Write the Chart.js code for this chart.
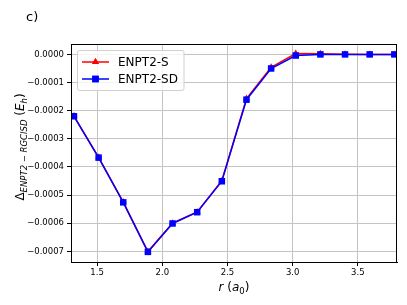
<!DOCTYPE html>
<html>
<head>
<meta charset="utf-8">
<script src="https://cdn.jsdelivr.net/npm/chart.js@4.4.0/dist/chart.umd.min.js"></script>
<style>
  body { margin: 0; background: #fff; }
  #wrap { width: 407px; height: 305px; }
</style>
</head>
<body>
<div id="wrap"><canvas id="c" width="407" height="305"></canvas></div>
<script>
// r in bohr (0.7 .. 2.0 Angstrom)
const rValues = [1.3228, 1.5118, 1.7008, 1.8897, 2.0787, 2.2677, 2.4566, 2.6456, 2.8346, 3.0236, 3.2125, 3.4015, 3.5905, 3.7795];
const enpt2S  = [-0.000219, -0.000366, -0.000525, -0.000701, -0.000600, -0.000560, -0.000449, -0.000157, -0.000046, 0.000003, 0.000002, 0.000001, 0.0, 0.0];
const enpt2SD = [-0.000220, -0.000367, -0.000526, -0.000702, -0.000601, -0.000561, -0.000451, -0.000161, -0.000050, -0.000004, 0.000000, 0.000000, 0.0, 0.0];
const xTicks = [1.5, 2.0, 2.5, 3.0, 3.5];
const yTicks = [0, -0.0001, -0.0002, -0.0003, -0.0004, -0.0005, -0.0006, -0.0007];

const FONT = '"DejaVu Sans", sans-serif';

const toPoints = (xs, ys) => xs.map((x, i) => ({ x: x, y: ys[i] }));

// draws frame, labels with subscripts and the legend box
const decorations = {
    id: 'decorations',
    afterDatasetsDraw(chart) {
        const ctx = chart.ctx;
        const a = chart.chartArea;
        ctx.save();

        // axes frame
        ctx.strokeStyle = '#000';
        ctx.lineWidth = 1;
        ctx.strokeRect(Math.round(a.left) + 0.5, Math.round(a.top) + 0.5, Math.round(a.right - a.left) - 1, Math.round(a.bottom - a.top));

        // legend
        const lx = 77.5, ly = 50.5, lw = 106.5, lh = 40;
        ctx.fillStyle = 'rgba(255,255,255,0.8)';
        ctx.strokeStyle = '#d0d0d0';
        ctx.beginPath();
        ctx.roundRect(lx, ly, lw, lh, 2);
        ctx.fill();
        ctx.stroke();
        chart.data.datasets.forEach((ds, i) => {
            const y = 62 + i * 17;
            ctx.strokeStyle = ds.borderColor;
            ctx.lineWidth = 1.5;
            ctx.beginPath();
            ctx.moveTo(82, y);
            ctx.lineTo(109, y);
            ctx.stroke();
            ctx.fillStyle = ds.backgroundColor;
            Chart.helpers.drawPoint(ctx, { pointStyle: ds.pointStyle, radius: ds.pointRadius, borderWidth: 0 }, 95.5, y);
            ctx.fill();
            ctx.fillStyle = '#000';
            ctx.font = '12px ' + FONT;
            ctx.textBaseline = 'middle';
            ctx.fillText(ds.label, 118, y + 0.5);
        });

        // panel tag
        ctx.fillStyle = '#000';
        ctx.font = '13px ' + FONT;
        ctx.textBaseline = 'middle';
        ctx.fillText('c)', 26, 18);

        // x label: r (a0)
        const parts = (pieces, x, y) => {
            let width = 0;
            pieces.forEach(p => { ctx.font = p.f; width += ctx.measureText(p.t).width; });
            let cx = x - width / 2;
            pieces.forEach(p => {
                ctx.font = p.f;
                ctx.fillText(p.t, cx, y + (p.dy || 0));
                cx += ctx.measureText(p.t).width;
            });
        };
        ctx.textBaseline = 'alphabetic';
        parts([
            { t: 'r', f: 'italic 12px ' + FONT },
            { t: ' (', f: '12px ' + FONT },
            { t: 'a', f: 'italic 12px ' + FONT },
            { t: '0', f: '8.5px ' + FONT, dy: 2.5 },
            { t: ')', f: '12px ' + FONT }
        ], (a.left + a.right) / 2, 291);

        // y label: Delta_{ENPT2 - RGCISD} (E_h)
        ctx.translate(24, 147);
        ctx.rotate(-Math.PI / 2);
        parts([
            { t: 'Δ', f: '12px ' + FONT },
            { t: 'ENPT2 − RGCISD', f: 'italic 8.5px ' + FONT, dy: 2.5 },
            { t: ' (', f: '12px ' + FONT },
            { t: 'E', f: 'italic 12px ' + FONT },
            { t: 'h', f: 'italic 8.5px ' + FONT, dy: 2.5 },
            { t: ')', f: '12px ' + FONT }
        ], 0, 0);

        ctx.restore();
    }
};

new Chart(document.getElementById('c'), {
    type: 'line',
    data: {
        datasets: [
            {
                label: 'ENPT2-S',
                data: toPoints(rValues, enpt2S),
                borderColor: '#ff0000',
                backgroundColor: '#ff0000',
                pointStyle: 'triangle',
                pointRadius: 4,
                pointBorderWidth: 0,
                borderWidth: 1.5,
                tension: 0,
                order: 1
            },
            {
                label: 'ENPT2-SD',
                data: toPoints(rValues, enpt2SD),
                borderColor: '#0000ff',
                backgroundColor: '#0000ff',
                pointStyle: 'rect',
                pointRadius: 4.6,
                pointBorderWidth: 0,
                borderWidth: 1.5,
                tension: 0,
                order: 0
            }
        ]
    },
    options: {
        responsive: false,
        animation: false,
        layout: { padding: { top: 44, right: 10, left: 0, bottom: 0 } },
        plugins: { legend: { display: false }, tooltip: { enabled: false } },
        scales: {
            x: {
                type: 'linear',
                min: 1.3,
                max: 3.8,
                afterBuildTicks: (s) => { s.ticks = xTicks.map(v => ({ value: v })); },
                afterFit: (s) => { s.height = 43; },
                ticks: {
                    callback: (v) => v.toFixed(1),
                    color: '#000',
                    font: { family: FONT, size: 8.5 },
                    padding: 2,
                    maxRotation: 0
                },
                grid: { color: '#c4c4c4', tickColor: '#000', tickLength: 4 },
                border: { color: '#000' }
            },
            y: {
                type: 'linear',
                min: -0.000738,
                max: 0.000037,
                afterBuildTicks: (s) => { s.ticks = yTicks.map(v => ({ value: v })); },
                afterFit: (s) => { s.width = 71; },
                ticks: {
                    callback: (v) => (v < 0 ? '−' : '') + Math.abs(v).toFixed(4),
                    color: '#000',
                    font: { family: FONT, size: 8.5 },
                    padding: 3
                },
                grid: { color: '#c4c4c4', tickColor: '#000', tickLength: 4 },
                border: { color: '#000' }
            }
        }
    },
    plugins: [decorations]
});
</script>
</body>
</html>
